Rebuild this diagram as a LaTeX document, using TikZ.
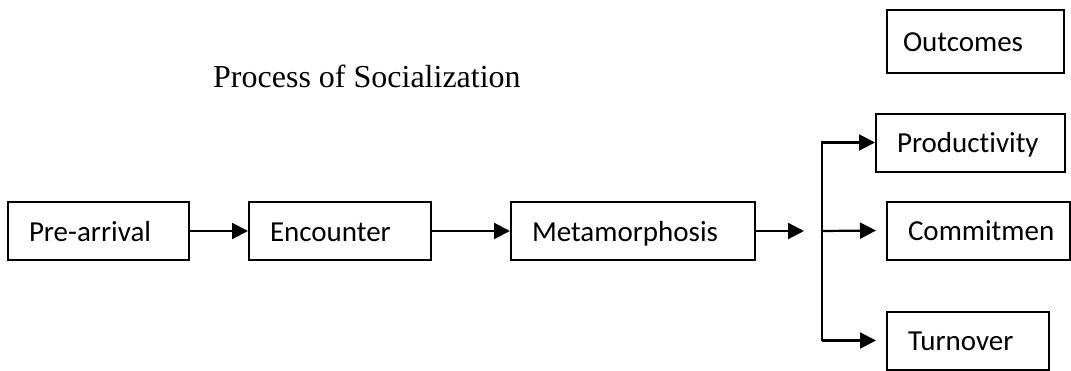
\documentclass[tikz,border=0pt]{standalone}
\usepackage{fontspec}
\setmainfont{Liberation Serif}
\newfontfamily\boxfont[Ligatures=NoCommon]{Carlito}
\usetikzlibrary{arrows.meta}

\tikzset{
  stagebox/.style={draw, line width=2pt, inner xsep=21pt, minimum height=58pt,
    text height=24pt, text depth=4pt,
    align=left, font=\boxfont\fontsize{29}{34}\selectfont},
  link/.style={->, line width=2.2pt},
}

\begin{document}
\begin{tikzpicture}[line join=miter,>={Triangle[length=16pt,width=16pt]},x=1pt,y=-1pt]
        \useasboundingbox (0,0) rectangle (1071,370);
        % title
        \node[anchor=base west, inner sep=0pt, font=\fontsize{32}{38}\selectfont] (title) at (213,87) {Process of Socialization};
        % stages
        \node[stagebox, text width=139pt] (pre) at (98.5,231) {Pre-arrival};
        \node[stagebox, text width=140pt] (enc) at (340,231) {Encounter};
        \node[stagebox, text width=202pt] (meta) at (633,231) {Metamorphosis};
        % outcomes
        \node[stagebox, inner xsep=16pt, minimum height=63pt, text width=145pt] (out) at (975.5,41.5) {Outcomes};
        \node[stagebox, text width=147pt] (prod) at (970.5,142.5) {Productivity};
        \node[stagebox, text width=141pt] (comm) at (978.5,230.5) {Commitmen};
        \node[stagebox, text width=120pt] (turn) at (968,340.5) {Turnover};
        % connectors
        \coordinate (split) at (804,231);
        \coordinate (fork) at (822,231);
        \draw[link] (pre) -- (enc);
        \draw[link] (enc) -- (meta);
        \draw[link] (meta) -- (split);
        \draw[link] (fork |- turn.west) -- (fork |- prod.west) -- (prod.west);
        \draw[link] (fork) -- ([xshift=-10pt]comm.west);
        \draw[link] (fork |- turn.west) -- ([xshift=-10pt]turn.west);
      \end{tikzpicture}
\end{document}
